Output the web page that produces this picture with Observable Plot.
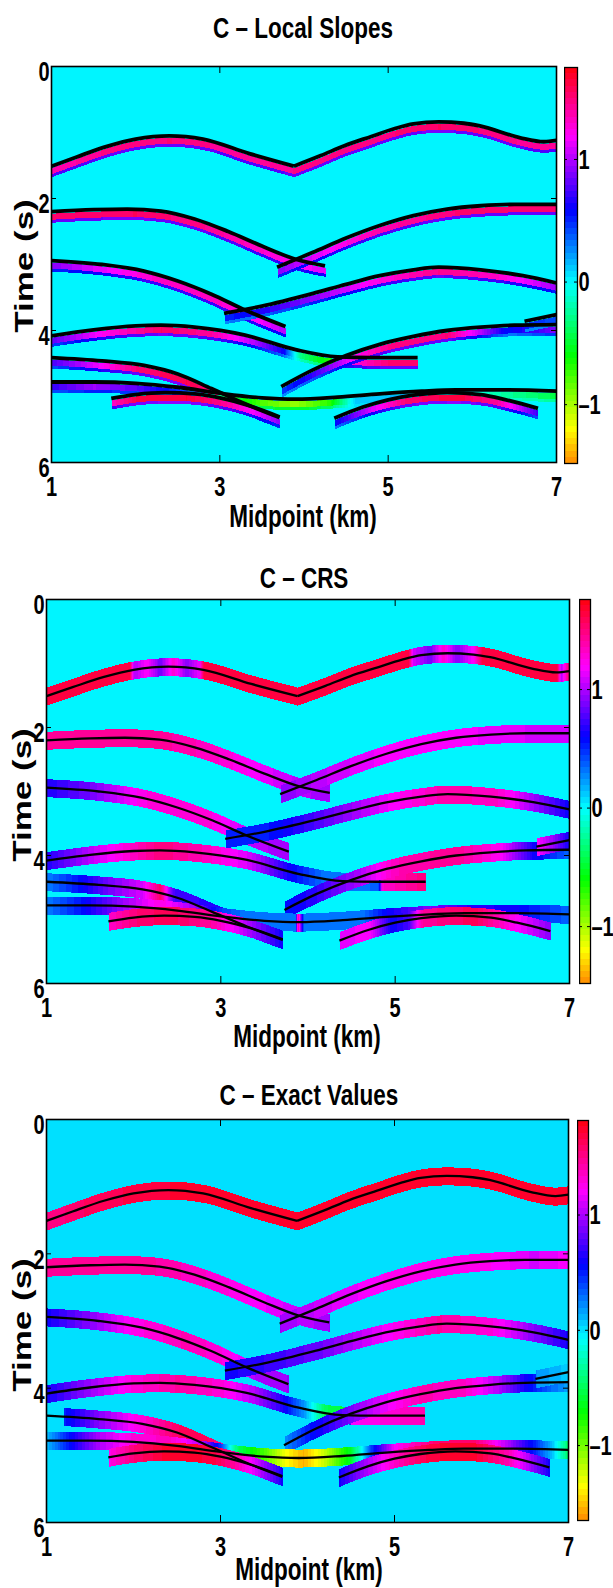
<!DOCTYPE html>
<html><head><meta charset="utf-8">
<script src="https://cdn.jsdelivr.net/npm/d3@7"></script>
<script src="https://cdn.jsdelivr.net/npm/@observablehq/plot@0.6"></script>
<style>
body{margin:0;background:#fff;}
#root{position:relative;width:613px;height:1588px;overflow:hidden;background:#fff;}
#root svg{position:absolute;}
</style></head><body><div id="root"></div>
<script>
// ---------- text & ticks ----------
const titles = ["C – Local Slopes", "C – CRS", "C – Exact Values"];
const xLabel = "Midpoint (km)";
const yLabel = "Time (s)";
const xTicks = [1, 3, 5, 7];
const yTicks = [0, 2, 4, 6];
const cbTicks = [-1, 0, 1];
const cbRanges = [[-1.48, 1.75], [-1.48, 1.76], [-1.65, 1.82]];

// ---------- event curves (midpoint km, time s) ----------
const kmA1 = [1.0,1.3,1.66,2.0,2.4,2.8,3.35,3.88];
const tA1  = [1.51,1.37,1.21,1.10,1.05,1.10,1.32,1.51];
const kmA2 = [3.88,4.2,4.48,4.8,5.08,5.3,5.6,5.9,6.09,6.57,6.85,7.0];
const tA2  = [1.51,1.35,1.20,1.06,0.94,0.87,0.84,0.86,0.90,1.08,1.14,1.12];
const kmB1 = [1.0,1.5,1.9,2.3,2.7,3.1,3.5,3.9,4.25];
const tB1  = [2.20,2.17,2.16,2.19,2.31,2.50,2.72,2.92,3.02];
const kmB2 = [3.68,4.1,4.5,4.9,5.3,5.7,6.1,6.5,7.0];
const tB2  = [3.04,2.82,2.60,2.41,2.26,2.16,2.11,2.09,2.09];
const kmC1 = [1.0,1.6,2.1,2.5,2.9,3.3,3.78];
const tC1  = [2.94,3.00,3.10,3.25,3.45,3.69,3.94];
const kmC2 = [3.05,3.5,4.1,4.5,4.9,5.3,5.6,6.1,6.6,7.0];
const tC2  = [3.74,3.63,3.44,3.30,3.17,3.08,3.04,3.08,3.17,3.28];
const kmD1 = [1.0,1.5,2.0,2.3,2.7,3.3,3.9,4.4,4.8,5.35];
const tD1  = [4.08,3.99,3.93,3.92,3.95,4.07,4.29,4.40,4.41,4.41];
const kmD2 = [3.73,4.1,4.5,4.9,5.3,5.7,6.1,6.5,7.0];
const tD2  = [4.85,4.60,4.38,4.21,4.09,4.00,3.95,3.92,3.91];
const kmD3 = [6.62,7.0];
const tD3  = [3.86,3.76];
const kmE  = [1.0,1.6,2.1,2.5,2.9,3.3,3.71];
const tE   = [4.41,4.46,4.53,4.66,4.88,5.11,5.32];
const kmF  = [1.0,1.5,2.0,2.5,3.0,3.5,3.9,4.4,4.9,5.4,5.8,6.4,7.0];
const tF   = [4.78,4.78,4.80,4.86,4.95,5.02,5.04,5.01,4.96,4.92,4.90,4.90,4.92];
const kmG  = [1.71,2.0,2.35,2.7,3.0,3.35,3.71];
const tG   = [5.03,4.97,4.94,4.96,5.02,5.14,5.31];
const kmH  = [4.36,4.7,5.0,5.3,5.7,6.1,6.4,6.78];
const tH   = [5.33,5.16,5.05,4.98,4.94,4.97,5.05,5.18];

// ---------- attribute C along each event: [km, value] ----------
// Local slopes
const locA  = [[1,1.35],[1.6,1.45],[2.4,1.5],[3.3,1.4],[3.9,1.45],[4.6,1.45],[5.6,1.55],[6.5,1.45],[7,1.4]];
const locB1 = [[1,1.5],[2,1.55],[2.8,1.45],[3.5,1.3],[4.25,1.1]];
const locB2 = [[3.68,0.9],[4.1,1.1],[4.8,1.35],[5.8,1.5],[7,1.5]];
const locC1 = [[1,0.9],[1.5,1.1],[2.2,1.3],[3.0,1.3],[3.5,1.15],[3.78,1.0]];
const locC2 = [[3.05,0.5],[3.5,0.65],[4.2,0.95],[4.9,1.25],[5.6,1.45],[6.3,1.3],[7,0.95]];
const locD1 = [[1,0.8],[1.6,1.2],[2.3,1.55],[2.9,1.4],[3.4,1.0],[3.75,0.6],[3.95,-0.3],[4.3,-0.7],[4.5,1.2],[5.0,1.5],[5.35,1.5]];
const locD2 = [[3.73,0.45],[4.1,0.7],[4.6,1.2],[5.0,1.45],[5.7,1.5],[6.1,1.0],[6.4,0.55],[6.8,0.75],[7,0.9]];
const locD3 = [[6.62,0.5],[7,0.4]];
const locE  = [[1,0.75],[1.5,1.1],[2.0,1.5],[2.6,1.6],[3.1,1.4],[3.45,1.1],[3.71,0.8]];
const locF  = [[1,0.7],[1.5,0.95],[2.0,0.8],[2.6,0.4],[3.0,-0.3],[3.5,-0.8],[3.9,-0.95],[4.3,-0.7],[4.6,0.1],[5.2,0.15],[6.0,-0.1],[7,-0.45]];
const locG  = [[1.71,1.3],[2.0,1.6],[2.6,1.65],[3.0,1.45],[3.35,1.2],[3.71,0.9]];
const locH  = [[4.36,0.55],[4.8,1.1],[5.2,1.5],[5.8,1.65],[6.3,1.4],[6.78,0.7]];
// CRS
const crsA  = [[1,1.65],[1.95,1.65],[2.0,1.0],[2.15,1.2],[2.3,0.85],[2.45,1.3],[2.6,0.9],[2.75,1.15],[2.8,1.65],[5.15,1.65],[5.2,1.1],[5.4,0.85],[5.55,1.3],[5.7,0.9],[5.9,1.2],[6.0,1.65],[6.85,1.65],[6.9,1.0],[7,1.6]];
const crsB1 = [[1,1.45],[2.2,1.45],[3.0,1.3],[3.6,1.1],[4.25,0.95]];
const crsB2 = [[3.68,0.9],[4.2,1.05],[5.0,1.2],[6.0,1.15],[7,1.05]];
const crsC1 = [[1,0.65],[1.5,0.85],[2.1,1.25],[2.8,1.3],[3.3,1.05],[3.78,0.95]];
const crsC2 = [[3.05,0.5],[3.6,0.55],[4.3,0.85],[4.9,1.15],[5.6,1.4],[6.2,1.3],[6.7,0.85],[7,0.6]];
const crsD1 = [[1,0.65],[1.6,1.1],[2.3,1.5],[2.8,1.35],[3.3,1.1],[3.8,0.6],[4.2,0.3],[4.8,0.35],[4.85,1.3],[5.35,1.5]];
const crsD2 = [[3.73,0.55],[4.1,0.7],[4.6,1.0],[5.0,1.35],[5.7,1.45],[6.2,1.2],[6.6,0.6],[7,0.35]];
const crsD3 = [[6.62,1.2],[6.8,0.95],[7,0.6]];
const crsE  = [[1,0.3],[1.3,0.5],[1.7,0.85],[2.1,1.1],[2.3,1.55],[2.45,0.75],[3.0,0.65],[3.4,0.85],[3.71,0.6]];
const crsF  = [[1,0.3],[1.4,0.55],[1.8,0.9],[2.3,1.25],[2.7,0.95],[3.0,0.45],[3.3,0.3],[3.85,0.3],[3.88,1.45],[3.95,0.3],[4.6,0.3],[4.9,0.6],[5.4,0.9],[5.8,0.7],[6.4,0.6],[7,0.35]];
const crsG  = [[1.71,1.3],[2.0,1.5],[2.4,1.6],[2.9,1.4],[3.3,1.0],[3.71,0.6]];
const crsH  = [[4.36,1.1],[4.7,1.2],[4.95,0.6],[5.15,0.75],[5.3,1.4],[5.9,1.6],[6.3,1.25],[6.78,0.9]];
// Exact values
const exA  = [[1,1.5],[1.5,1.62],[2.5,1.72],[7,1.72]];
const exB1 = [[1,1.45],[2.2,1.45],[3.0,1.3],[3.6,1.15],[4.25,0.95]];
const exB2 = [[3.68,0.95],[4.2,1.1],[5.0,1.25],[6.0,1.25],[6.6,1.1],[7,1.2]];
const exC1 = [[1,0.6],[1.5,0.9],[2.0,1.25],[2.6,1.4],[3.1,1.25],[3.4,1.0],[3.78,0.95]];
const exC2 = [[3.05,0.6],[3.6,0.7],[4.2,0.85],[4.8,1.15],[5.5,1.45],[6.1,1.3],[6.6,0.9],[7,0.6]];
const exD1 = [[1,0.6],[1.5,0.95],[2.0,1.3],[2.5,1.45],[3.0,1.3],[3.4,1.0],[3.7,0.65],[3.95,0.2],[4.2,-0.5],[4.45,-0.6],[4.5,1.2],[5.35,1.4]];
const exD2 = [[3.73,0.2],[4.0,0.5],[4.4,0.8],[4.8,1.1],[5.3,1.4],[5.8,1.35],[6.2,1.0],[6.5,0.6],[6.8,0.3],[7,0.15]];
const exD3 = [[6.62,0.2],[7,0.05]];
const exE  = [[1.2,0.5],[1.6,0.9],[2.1,1.3],[2.5,1.6],[2.8,1.65],[3.1,1.4],[3.35,1.1],[3.71,0.6]];
const exF  = [[1,0.1],[1.3,0.6],[1.6,1.0],[2.0,1.3],[2.4,1.35],[2.8,1.0],[3.0,0.4],[3.2,-0.5],[3.5,-0.9],[3.75,-1.35],[3.95,-1.55],[4.2,-1.2],[4.5,-0.6],[4.75,0.5],[5.0,1.2],[5.5,1.6],[5.9,1.6],[6.3,1.0],[6.6,0.5],[6.8,0.1],[7,-0.5]];
const exG  = [[1.71,1.25],[2.0,1.55],[2.4,1.75],[2.9,1.7],[3.2,1.4],[3.5,0.95],[3.71,0.6]];
const exH  = [[4.36,0.6],[4.6,0.9],[5.0,1.35],[5.4,1.7],[5.9,1.75],[6.3,1.4],[6.6,0.9],[6.78,0.6]];

const events = [
  {name:"A1", km:kmA1, t:tA1, vals:[locA, crsA, exA]},
  {name:"A2", km:kmA2, t:tA2, vals:[locA, crsA, exA]},
  {name:"B1", km:kmB1, t:tB1, vals:[locB1, crsB1, exB1]},
  {name:"B2", km:kmB2, t:tB2, vals:[locB2, crsB2, exB2]},
  {name:"C1", km:kmC1, t:tC1, vals:[locC1, crsC1, exC1]},
  {name:"C2", km:kmC2, t:tC2, vals:[locC2, crsC2, exC2]},
  {name:"D1", km:kmD1, t:tD1, vals:[locD1, crsD1, exD1]},
  {name:"D2", km:kmD2, t:tD2, vals:[locD2, crsD2, exD2]},
  {name:"D3", km:kmD3, t:tD3, vals:[locD3, crsD3, exD3]},
  {name:"E",  km:kmE,  t:tE,  vals:[locE, crsE, exE]},
  {name:"F",  km:kmF,  t:tF,  vals:[locF, crsF, exF]},
  {name:"G",  km:kmG,  t:tG,  vals:[locG, crsG, exG]},
  {name:"H",  km:kmH,  t:tH,  vals:[locH, crsH, exH]}
];

// ---------- layout ----------
const FONT = "'Liberation Sans', Arial, Helvetica, sans-serif";
const panels = [
  {left:51, right:556, top:66,   bottom:462,  cb:{left:564,right:577,top:67,bottom:463},   mode:"below",  lw:3.8, titleX:303, titleY:38,   xlabX:303, xlabY:527,  ylabX:33, ylabY:266},
  {left:46, right:569, top:599,  bottom:983,  cb:{left:579,right:590,top:599,bottom:983},  mode:"center", lw:2.3, titleX:304, titleY:588,  xlabX:307, xlabY:1047, ylabX:31, ylabY:795},
  {left:46, right:568, top:1119, bottom:1522, cb:{left:577,right:588,top:1120,bottom:1520}, mode:"center", lw:2.3, titleX:309, titleY:1105, xlabX:309, xlabY:1580, ylabX:31, ylabY:1325}
];

// MATLAB-like 64-step hue colormap: orange -> yellow -> green -> cyan -> blue -> magenta -> red
function cmap(t) {
  const k = Math.max(0, Math.min(63, Math.floor(t * 64)));
  return d3.hsl(35 + 320 * k / 63, 1, 0.5).formatHex();
}

// tangents identical to d3.curveMonotoneX (used by the line mark), so bands follow the drawn curves
function monoTangents(xs, ys) {
  const n = xs.length, m = new Array(n).fill(0);
  if (n === 2) { const s = (ys[1] - ys[0]) / (xs[1] - xs[0]); m[0] = m[1] = s; return m; }
  for (let i = 1; i < n - 1; i++) {
    const h0 = xs[i] - xs[i - 1], h1 = xs[i + 1] - xs[i];
    const s0 = (ys[i] - ys[i - 1]) / h0, s1 = (ys[i + 1] - ys[i]) / h1;
    const p = (s0 * h1 + s1 * h0) / (h0 + h1);
    m[i] = (Math.sign(s0) + Math.sign(s1)) * Math.min(Math.abs(s0), Math.abs(s1), 0.5 * Math.abs(p)) || 0;
  }
  m[0] = (3 * (ys[1] - ys[0]) / (xs[1] - xs[0]) - m[1]) / 2;
  m[n - 1] = (3 * (ys[n - 1] - ys[n - 2]) / (xs[n - 1] - xs[n - 2]) - m[n - 2]) / 2;
  return m;
}

function interpStops(st, x) {
  let j = 1;
  while (j < st.length - 1 && st[j][0] < x) j++;
  const a = st[j - 1], b = st[j];
  const g = b[0] === a[0] ? 1 : Math.max(0, Math.min(1, (x - a[0]) / (b[0] - a[0])));
  return a[1] + g * (b[1] - a[1]);
}

function makeFill(p, pi, sy) {
  const evs = events.map(e => ({km: e.km, t: e.t, m: monoTangents(e.km, e.t), st: e.vals[pi]}));
  return (x, y) => {
    let val = 0;
    for (const e of evs) {
      const st = e.st, km = e.km;
      if (x < st[0][0] || x > st[st.length - 1][0]) continue;
      if (x < km[0] || x > km[km.length - 1]) continue;
      let i = 1;
      while (i < km.length - 1 && km[i] < x) i++;
      const h = km[i] - km[i - 1];
      const s = (x - km[i - 1]) / h;
      const s2 = s * s, s3 = s2 * s;
      const tl = (2*s3 - 3*s2 + 1) * e.t[i - 1] + (s3 - 2*s2 + s) * h * e.m[i - 1]
               + (-2*s3 + 3*s2) * e.t[i] + (s3 - s2) * h * e.m[i];
      const d = (y - tl) * sy;
      let fringe = false;
      if (p.mode === "below") {
        if (d < 1.5 || d > 10.5) continue;
        fringe = d > 7.5;
      } else if (Math.abs(d) > 9) continue;
      let v = interpStops(st, x);
      if (fringe) v *= 0.55;
      val = v;
    }
    return val;
  };
}

function stretch(svg, selector, k) {
  svg.querySelectorAll(selector).forEach(el => {
    const b = el.getBBox();
    const cy = b.y + b.height / 2;
    const tr = el.getAttribute("transform") || "";
    el.setAttribute("transform", `${tr} translate(0,${cy}) scale(1,${k}) translate(0,${-cy})`);
  });
}

const root = document.getElementById("root");
const lineData = events.flatMap(e => e.km.map((k, i) => ({ev: e.name, km: k, t: e.t[i]})));
const fmtTick = d => d < 0 ? "–" + Math.abs(d) : String(d);

panels.forEach((p, pi) => {
  const W = p.right - p.left, H = p.bottom - p.top;
  const sy = H / 6;
  const mT = 20, mB = 40;
  const dom = cbRanges[pi];
  const color = {type: "linear", domain: dom, interpolate: cmap, clamp: true};
  const inner = xTicks.slice(1, -1), innerY = yTicks.slice(1, -1);

  const main = Plot.plot({
    width: 613, height: mT + H + mB,
    marginLeft: p.left, marginRight: 613 - p.right, marginTop: mT, marginBottom: mB,
    x: {domain: [1, 7]},
    y: {domain: [0, 6], reverse: true},
    color,
    style: {background: "transparent", fontSize: "20px", fontWeight: "bold", fontFamily: FONT, color: "black"},
    marks: [
      Plot.raster({x1: 1, x2: 7, y1: 0, y2: 6, fill: makeFill(p, pi, sy), imageRendering: "pixelated"}),
      Plot.line(lineData, {x: "km", y: "t", z: "ev", curve: "monotone-x", stroke: "black", strokeWidth: p.lw, strokeLinejoin: "round", strokeLinecap: "butt"}),
      Plot.ruleX(inner, {insetBottom: H - 7, stroke: "black"}),
      Plot.ruleX(inner, {insetTop: H - 7, stroke: "black"}),
      Plot.ruleY(innerY, {insetRight: W - 5, stroke: "black"}),
      Plot.ruleY(innerY, {insetLeft: W - 5, stroke: "black"}),
      Plot.frame({stroke: "black", strokeWidth: 1.6}),
      Plot.axisX({ticks: xTicks, tickSize: 0, tickPadding: 16, label: null, tickFormat: fmtTick}),
      Plot.axisY({ticks: yTicks, tickSize: 0, tickPadding: 2, dy: 5.5, label: null, tickFormat: fmtTick})
    ]
  });
  main.style.left = "0px";
  main.style.top = (p.top - mT) + "px";
  root.appendChild(main);
  stretch(main, 'g[aria-label="x-axis tick label"] text, g[aria-label="y-axis tick label"] text', 1.4);

  const cb = p.cb;
  const cbW = cb.right - cb.left, cbH = cb.bottom - cb.top;
  const bar = Plot.plot({
    width: 613 - cb.left, height: cbH + 20,
    marginLeft: 0, marginRight: 613 - cb.right, marginTop: 10, marginBottom: 10,
    x: {domain: [0, 1], axis: null},
    y: {domain: dom},
    color,
    style: {background: "transparent", fontSize: "20px", fontWeight: "bold", fontFamily: FONT, color: "black"},
    marks: [
      Plot.raster({x1: 0, x2: 1, y1: dom[0], y2: dom[1], fill: (x, y) => y, imageRendering: "pixelated"}),
      Plot.ruleY(cbTicks, {insetRight: cbW - 3, stroke: "black"}),
      Plot.ruleY(cbTicks, {insetLeft: cbW - 3, stroke: "black"}),
      Plot.frame({stroke: "black", strokeWidth: 1.3}),
      Plot.axisY({anchor: "right", ticks: cbTicks, tickSize: 0, tickPadding: 1, label: null, tickFormat: fmtTick})
    ]
  });
  bar.style.left = cb.left + "px";
  bar.style.top = (cb.top - 10) + "px";
  root.appendChild(bar);
  stretch(bar, 'g[aria-label="y-axis tick label"] text', 1.4);
});

// titles and axis names
const ov = d3.select(root).append("svg")
  .attr("width", 613).attr("height", 1588)
  .style("left", "0px").style("top", "0px")
  .attr("font-family", FONT).attr("font-weight", "bold").attr("fill", "black");
panels.forEach((p, pi) => {
  ov.append("text").attr("text-anchor", "middle").attr("font-size", 22.5)
    .attr("transform", `translate(${p.titleX},${p.titleY}) scale(1,1.3)`).text(titles[pi]);
  ov.append("text").attr("text-anchor", "middle").attr("font-size", 22.5)
    .attr("transform", `translate(${p.xlabX},${p.xlabY}) scale(1,1.42)`).text(xLabel);
  ov.append("text").attr("text-anchor", "middle").attr("font-size", 25)
    .attr("transform", `translate(${p.ylabX},${p.ylabY}) scale(1,1.4) rotate(-90)`).text(yLabel);
});
</script>
</body></html>
